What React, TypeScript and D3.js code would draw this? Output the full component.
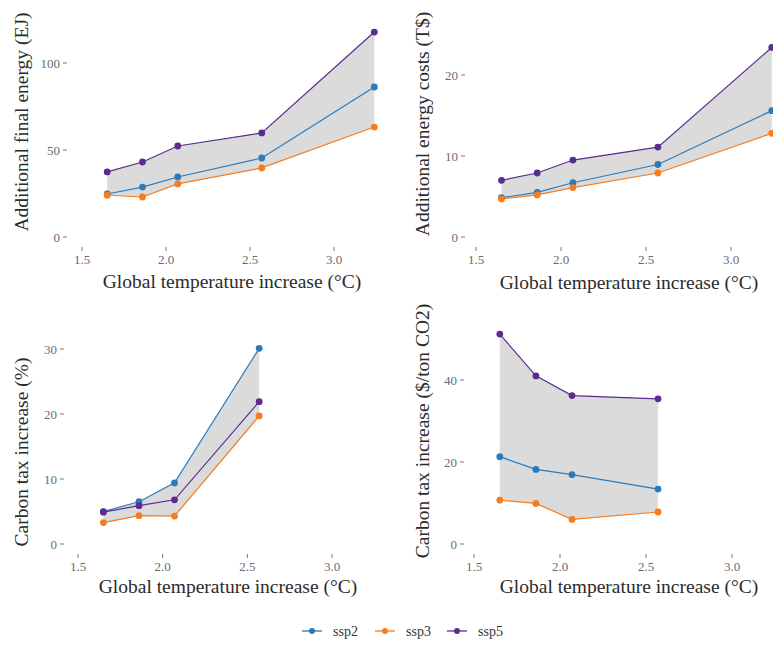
import React from "react";
import * as d3 from "d3";

const temps = [1.65, 1.86, 2.07, 2.57, 3.24];
const seriesNames = ["ssp2", "ssp3", "ssp5"];
const seriesColors = ["#2b7bba", "#f57d1f", "#5b2c90"];

const energySsp2 = [24.7, 28.7, 34.5, 45.4, 86.2];
const energySsp3 = [24.0, 23.0, 30.5, 39.7, 63.2];
const energySsp5 = [37.4, 43.1, 52.3, 59.8, 117.8];

const costSsp2 = [4.85, 5.5, 6.7, 8.95, 15.6];
const costSsp3 = [4.7, 5.2, 6.1, 7.9, 12.8];
const costSsp5 = [7.0, 7.9, 9.5, 11.1, 23.4];

const taxPctSsp2 = [5.0, 6.5, 9.4, 30.1];
const taxPctSsp3 = [3.3, 4.35, 4.3, 19.7];
const taxPctSsp5 = [4.9, 5.9, 6.8, 21.9];

const taxUsdSsp2 = [21.3, 18.2, 16.9, 13.4];
const taxUsdSsp3 = [10.7, 9.9, 6.0, 7.8];
const taxUsdSsp5 = [51.2, 41.0, 36.2, 35.4];

const xTicks = [1.5, 2.0, 2.5, 3.0];
const xTitle = "Global temperature increase (°C)";

const panels = [
  {
    title: "Additional final energy (EJ)",
    series: [energySsp2, energySsp3, energySsp5],
    yTicks: [0, 50, 100],
    xDom: [1.5, 3.0], xRange: [82, 334],
    yDom: [0, 100], yRange: [237, 63],
    yTitleX: 21, yTitleY: 122, xTitleX: 232, xTitleY: 288, labelRight: 60,
  },
  {
    title: "Additional energy costs (T$)",
    series: [costSsp2, costSsp3, costSsp5],
    yTicks: [0, 10, 20],
    xDom: [1.5, 3.0], xRange: [476, 731],
    yDom: [0, 20], yRange: [237, 75],
    yTitleX: 422, yTitleY: 124, xTitleX: 629, xTitleY: 289, labelRight: 458,
  },
  {
    title: "Carbon tax increase (%)",
    series: [taxPctSsp2, taxPctSsp3, taxPctSsp5],
    yTicks: [0, 10, 20, 30],
    xDom: [1.5, 3.0], xRange: [78, 332],
    yDom: [0, 30], yRange: [544, 349],
    yTitleX: 21, yTitleY: 452, xTitleX: 228, xTitleY: 593, labelRight: 57,
  },
  {
    title: "Carbon tax increase ($/ton CO2)",
    series: [taxUsdSsp2, taxUsdSsp3, taxUsdSsp5],
    yTicks: [0, 20, 40],
    xDom: [1.5, 3.0], xRange: [474, 732],
    yDom: [0, 40], yRange: [544, 380],
    yTitleX: 422, yTitleY: 431, xTitleX: 629, xTitleY: 593, labelRight: 457,
  },
];

const FONT = "'Liberation Serif', 'DejaVu Serif', serif";

function Panel({ p }: { p: any }) {
  const x = d3.scaleLinear().domain(p.xDom).range(p.xRange);
  const y = d3.scaleLinear().domain(p.yDom).range(p.yRange);
  const n = p.series[0].length;
  const xs = temps.slice(0, n);
  const band = xs.map((t, i) => {
    const vals = p.series.map((s: number[]) => s[i]);
    return { t, lo: d3.min(vals) as number, hi: d3.max(vals) as number };
  });
  const area = d3
    .area<any>()
    .x((d) => x(d.t))
    .y0((d) => y(d.lo))
    .y1((d) => y(d.hi));
  const line = d3
    .line<any>()
    .x((d) => x(d[0]))
    .y((d) => y(d[1]));
  const y0 = p.yRange[0];
  return (
    <g>
      <path d={area(band) || ""} fill="#d9d9d9" opacity={0.95} />
      {p.series.map((s: number[], si: number) => (
        <g key={si}>
          <path
            d={line(xs.map((t, i) => [t, s[i]])) || ""}
            fill="none"
            stroke={seriesColors[si]}
            strokeWidth={1.2}
          />
          {xs.map((t, i) => (
            <circle key={i} cx={x(t)} cy={y(s[i])} r={3.4} fill={seriesColors[si]} />
          ))}
        </g>
      ))}
      {p.yTicks.map((v: number) => (
        <g key={v}>
          <text
            x={p.labelRight}
            y={y(v)}
            dy="0.35em"
            textAnchor="end"
            fontFamily={FONT}
            fontSize={13}
            fill="#6b6b6b"
          >
            {v}
          </text>
          <line x1={p.labelRight + 3} x2={p.labelRight + 7} y1={y(v)} y2={y(v)} stroke="#777" strokeWidth={1} />
        </g>
      ))}
      {xTicks.map((v) => (
        <g key={v}>
          <line x1={x(v)} x2={x(v)} y1={y0 + 10} y2={y0 + 14} stroke="#777" strokeWidth={1} />
          <text
            x={x(v)}
            y={y0 + 22}
            dy="0.35em"
            textAnchor="middle"
            fontFamily={FONT}
            fontSize={13}
            fill="#6b6b6b"
          >
            {v.toFixed(1)}
          </text>
        </g>
      ))}
      <text
        x={p.xTitleX}
        y={p.xTitleY}
        textAnchor="middle"
        fontFamily={FONT}
        fontSize={19.5}
        fill="#2b2b2b"
      >
        {xTitle}
      </text>
      <text
        transform={`translate(${p.yTitleX},${p.yTitleY}) rotate(-90)`}
        textAnchor="middle"
        dy="0.35em"
        fontFamily={FONT}
        fontSize={19.5}
        fill="#2b2b2b"
      >
        {p.title}
      </text>
    </g>
  );
}

export default function App() {
  const legendX = d3.scaleOrdinal<string, number>().domain(seriesNames).range([302, 375, 447]);
  return (
    <svg
      width={773}
      height={646}
      style={{ position: "absolute", left: 0, top: 0, background: "#fff" }}
    >
      <rect width={773} height={646} fill="#fff" />
      {panels.map((p, i) => (
        <Panel key={i} p={p} />
      ))}
      {seriesNames.map((s, i) => {
        const lx = legendX(s);
        return (
          <g key={s}>
            <line x1={lx} x2={lx + 20} y1={631} y2={631} stroke={seriesColors[i]} strokeWidth={1.3} />
            <circle cx={lx + 10} cy={631} r={3} fill={seriesColors[i]} />
            <text x={lx + 31} y={631} dy="0.35em" fontFamily={FONT} fontSize={14} fill="#333">
              {s}
            </text>
          </g>
        );
      })}
    </svg>
  );
}
